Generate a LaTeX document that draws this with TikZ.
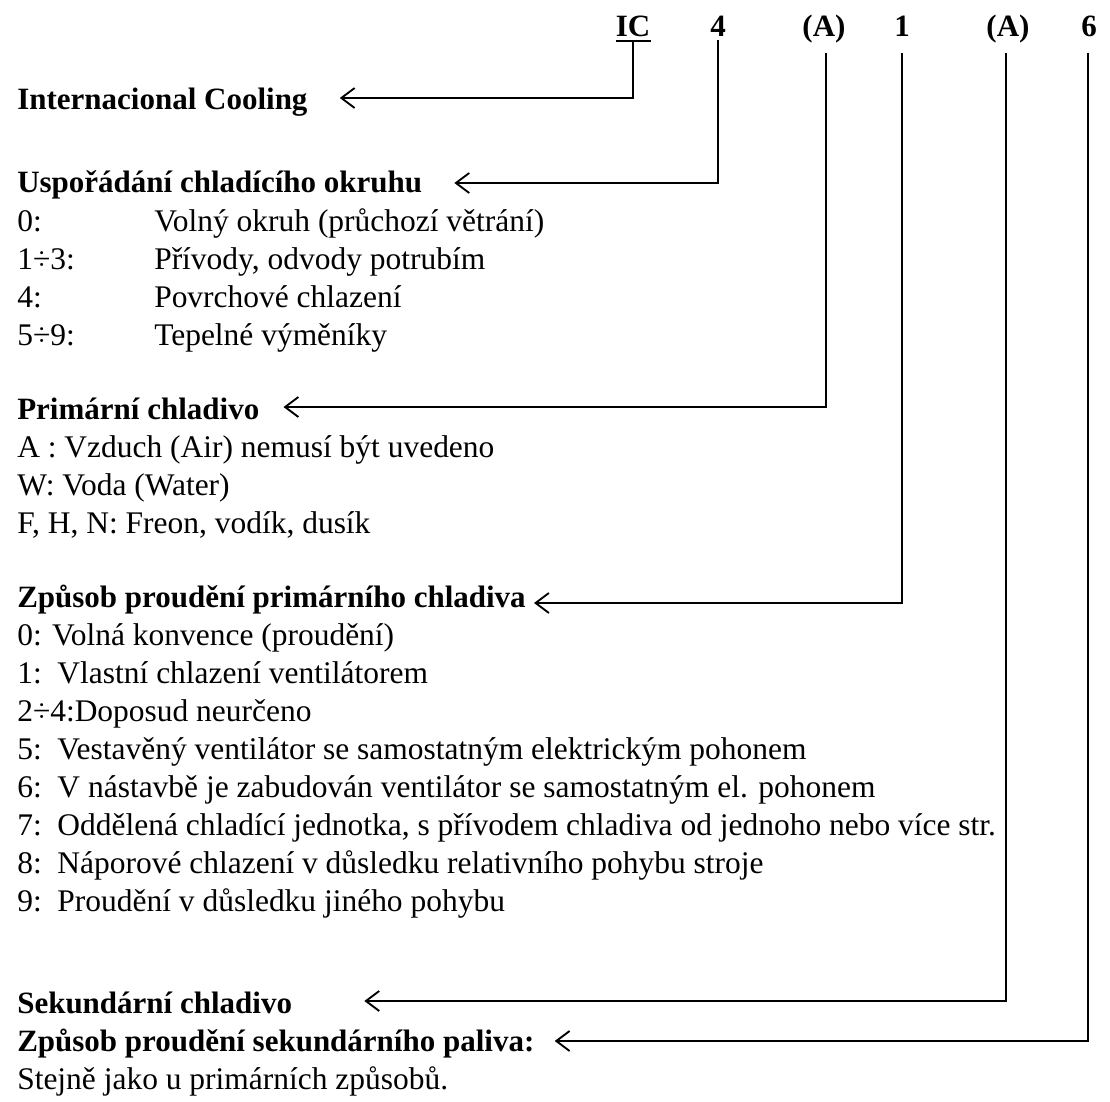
\documentclass[tikz,border=0pt]{standalone}
\usepackage{fontspec}
\setmainfont{Liberation Serif}
\usetikzlibrary{arrows.meta,calc}
\begin{document}
\begin{tikzpicture}[x=0.75pt,y=-0.75pt,
  body/.style={anchor=base west,inner sep=0pt,font=\fontsize{23.6}{28}\selectfont},
  head/.style={anchor=base west,inner sep=0pt,font=\fontsize{23.25}{28}\selectfont\bfseries},
  code/.style={anchor=base,inner sep=0pt,font=\fontsize{23.25}{28}\selectfont\bfseries},
  conn/.style={line width=1.5pt,-{Straight Barb[length=10pt,width=15pt,line width=1.4pt]}}]
\useasboundingbox (0,0) rectangle (1110,1102);
% header codes
\node[code] (hIC) at (633,37) {IC};
\node[code] (h4)  at (718,37) {4};
\node[code] (hA1) at (824,37) {(A)};
\node[code] (h1)  at (902,37) {1};
\node[code] (hA2) at (1008,37) {(A)};
\node[code] (h6)  at (1089,37) {6};
\draw[line width=2.2pt] ($(hIC.base west)+(0,4)$) -- ($(hIC.base east)+(0,4)$);
% labels
\node[head] (lIC) at (17,110) {Internacional Cooling};
\node[head] (lUs) at (17,193) {Uspořádání chladícího okruhu};
\node[body] (u0) at (17,231) {0:};
\node[body] (u0t) at (154,231) {Volný okruh (průchozí větrání)};
\node[body] (u1) at (17,269) {1÷3:};
\node[body] (u1t) at (154,269) {Přívody, odvody potrubím};
\node[body] (u2) at (17,307) {4:};
\node[body] (u2t) at (154,307) {Povrchové chlazení};
\node[body] (u3) at (17,345) {5÷9:};
\node[body] (u3t) at (154,345) {Tepelné výměníky};
\node[head] (lPr) at (17,419) {Primární chladivo};
\node[body] (p1) at (17,457) {A : Vzduch (Air) nemusí být uvedeno};
\node[body] (p2) at (17,495) {W: Voda (Water)};
\node[body] (p3) at (17,533) {F, H, N: Freon, vodík, dusík};
\node[head] (lZp) at (17,607) {Způsob proudění primárního chladiva};
\node[body] (z0) at (17,645) {0: Volná konvence (proudění)};
\node[body] (z1) at (17,683) {1:\ \ Vlastní chlazení ventilátorem};
\node[body] (z2) at (17,721) {2÷4:Doposud neurčeno};
\node[body] (z5) at (17,759) {5:\ \ Vestavěný ventilátor se samostatným elektrickým pohonem};
\node[body] (z6) at (17,797) {6:\ \ V nástavbě je zabudován ventilátor se samostatným el. pohonem};
\node[body] (z7) at (17,835) {7:\ \ Oddělená chladící jednotka, s přívodem chladiva od jednoho nebo více str.};
\node[body] (z8) at (17,873) {8:\ \ Náporové chlazení v důsledku relativního pohybu stroje};
\node[body] (z9) at (17,911) {9:\ \ Proudění v důsledku jiného pohybu};
\node[head] (lSe) at (17,1013) {Sekundární chladivo};
\node[head] (lZs) at (17,1051) {Způsob proudění sekundárního paliva:};
\node[body] (st) at (17,1089) {Stejně jako u primárních způsobů.};
% connectors
\draw[conn] ($(hIC.base)+(0,5)$) |- ($(lIC.base east)+(32,-12)$);
\draw[conn] ($(h4.base)+(0,3)$) |- ($(lUs.base east)+(32,-10)$);
\draw[conn] ($(hA1.base)+(2,16)$) |- ($(lPr.base east)+(24,-12)$);
\draw[conn] ($(h1.base)+(0,16)$) |- ($(lZp.base east)+(8,-4)$);
\draw[conn] ($(hA2.base)+(-2,16)$) |- ($(lSe.base east)+(72,-12)$);
\draw[conn] ($(h6.base)+(-1,16)$) |- ($(lZs.base east)+(20,-10)$);
\end{tikzpicture}
\end{document}
